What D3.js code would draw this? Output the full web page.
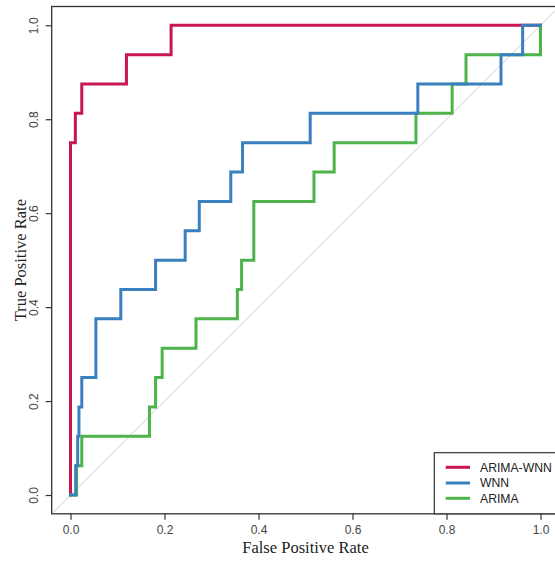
<!DOCTYPE html>
<html>
<head>
<meta charset="utf-8">
<script src="https://cdn.jsdelivr.net/npm/d3@7"></script>
<style>
  html, body { margin: 0; padding: 0; background: #fff; }
  svg { display: block; }
</style>
</head>
<body>
<svg id="chart" width="555" height="563"></svg>
<script>
// ---- data ----
const seriesNames = ["ARIMA-WNN", "WNN", "ARIMA"];
const seriesColors = ["#C8174F", "#3B80BE", "#4DB34A"];

const arimaWnnFpr = [0, 0, 0.0103, 0.024, 0.119, 0.214, 1];
const arimaWnnTpr = [0, 0.75, 0.8125, 0.875, 0.9375, 1, 1];

const wnnFpr = [0, 0.011, 0.0153, 0.018, 0.024, 0.054, 0.107, 0.181, 0.244, 0.274, 0.341, 0.366, 0.51, 0.739, 0.916, 0.962, 1];
const wnnTpr = [0, 0.0625, 0.125, 0.1875, 0.25, 0.375, 0.4375, 0.5, 0.5625, 0.625, 0.6875, 0.75, 0.8125, 0.875, 0.9375, 1, 1];

const arimaFpr = [0, 0.013, 0.024, 0.168, 0.181, 0.195, 0.267, 0.355, 0.364, 0.390, 0.518, 0.561, 0.735, 0.812, 0.8415, 1];
const arimaTpr = [0, 0.0625, 0.125, 0.1875, 0.25, 0.3125, 0.375, 0.4375, 0.5, 0.625, 0.6875, 0.75, 0.8125, 0.875, 0.9375, 1];

const xTicks = [0, 0.2, 0.4, 0.6, 0.8, 1.0];
const yTicks = [0, 0.2, 0.4, 0.6, 0.8, 1.0];
const xTitle = "False Positive Rate";
const yTitle = "True Positive Rate";

// ---- layout ----
const svg = d3.select("#chart");
const x = d3.scaleLinear().domain([-0.04, 1.04]).range([51.7, 559.3]);
const y = d3.scaleLinear().domain([-0.04, 1.04]).range([513.8, 6.5]);

const axisColor = "#333";

// clip region for plot
svg.append("clipPath").attr("id", "plotclip")
  .append("rect")
  .attr("x", x(-0.04)).attr("y", y(1.04))
  .attr("width", x(1.04) - x(-0.04)).attr("height", y(-0.04) - y(1.04));

// diagonal reference line
svg.append("line")
  .attr("clip-path", "url(#plotclip)")
  .attr("x1", x(-0.04)).attr("y1", y(-0.04))
  .attr("x2", x(1.04)).attr("y2", y(1.04))
  .attr("stroke", "#cfcfcf").attr("stroke-width", 1);

// curves
const curves = [
  { fpr: arimaWnnFpr, tpr: arimaWnnTpr, color: seriesColors[0] },
  { fpr: arimaFpr, tpr: arimaTpr, color: seriesColors[2] },
  { fpr: wnnFpr, tpr: wnnTpr, color: seriesColors[1] }
];
const line = d3.line().x(d => x(d[0])).y(d => y(d[1])).curve(d3.curveStepAfter);
curves.forEach(c => {
  const pts = c.fpr.map((f, i) => [f, c.tpr[i]]);
  svg.append("path")
    .attr("d", line(pts))
    .attr("fill", "none")
    .attr("stroke", c.color)
    .attr("stroke-width", 3)
    .attr("stroke-linejoin", "miter")
    .attr("stroke-linecap", "square");
});

// box
svg.append("rect")
  .attr("x", x(-0.04)).attr("y", y(1.04))
  .attr("width", x(1.04) - x(-0.04)).attr("height", y(-0.04) - y(1.04))
  .attr("fill", "none").attr("stroke", axisColor).attr("stroke-width", 1.3);

// axes
const fmt = d3.format(".1f");
const xAxis = d3.axisBottom(x).tickValues(xTicks).tickFormat(fmt).tickSize(6).tickPadding(6);
const gx = svg.append("g").attr("transform", `translate(0,${y(-0.04)})`).call(xAxis);
gx.select(".domain").remove();
gx.selectAll("line").attr("stroke", axisColor).attr("stroke-width", 1.2);
gx.selectAll("text").attr("font-family", "Liberation Sans, Arial, sans-serif")
  .attr("font-size", 12).attr("fill", "#444");

const yAxis = d3.axisLeft(y).tickValues(yTicks).tickFormat(fmt).tickSize(6).tickPadding(0);
const gy = svg.append("g").attr("transform", `translate(${x(-0.04)},0)`).call(yAxis);
gy.select(".domain").remove();
gy.selectAll("line").attr("stroke", axisColor).attr("stroke-width", 1.2);
gy.selectAll("text")
  .attr("font-family", "Liberation Sans, Arial, sans-serif")
  .attr("font-size", 12).attr("fill", "#444")
  .attr("text-anchor", "middle")
  .attr("x", 0).attr("dy", null).attr("y", 0)
  .attr("transform", "translate(-14,0) rotate(-90)");

// titles
svg.append("text")
  .attr("x", (x(-0.04) + x(1.04)) / 2).attr("y", 553)
  .attr("text-anchor", "middle")
  .attr("font-family", "Liberation Serif, Times New Roman, serif")
  .attr("font-size", 16.5).attr("fill", "#222")
  .text(xTitle);

svg.append("text")
  .attr("transform", `translate(26,${(y(-0.04) + y(1.04)) / 2}) rotate(-90)`)
  .attr("text-anchor", "middle")
  .attr("font-family", "Liberation Serif, Times New Roman, serif")
  .attr("font-size", 16.5).attr("fill", "#222")
  .text(yTitle);

// legend
const legX = 434.3, legY = 452.7;
svg.append("rect")
  .attr("x", legX).attr("y", legY)
  .attr("width", 140).attr("height", y(-0.04) - legY)
  .attr("fill", "#fff").attr("stroke", axisColor).attr("stroke-width", 1.2);
const legRows = [467.3, 483, 498.3];
seriesNames.forEach((name, i) => {
  svg.append("line")
    .attr("x1", 445.7).attr("x2", 470)
    .attr("y1", legRows[i]).attr("y2", legRows[i])
    .attr("stroke", seriesColors[i]).attr("stroke-width", 3);
  svg.append("text")
    .attr("x", 480).attr("y", legRows[i])
    .attr("dy", "0.36em")
    .attr("font-family", "Liberation Sans, Arial, sans-serif")
    .attr("font-size", 12.2).attr("fill", "#222")
    .text(name);
});
</script>
</body>
</html>
